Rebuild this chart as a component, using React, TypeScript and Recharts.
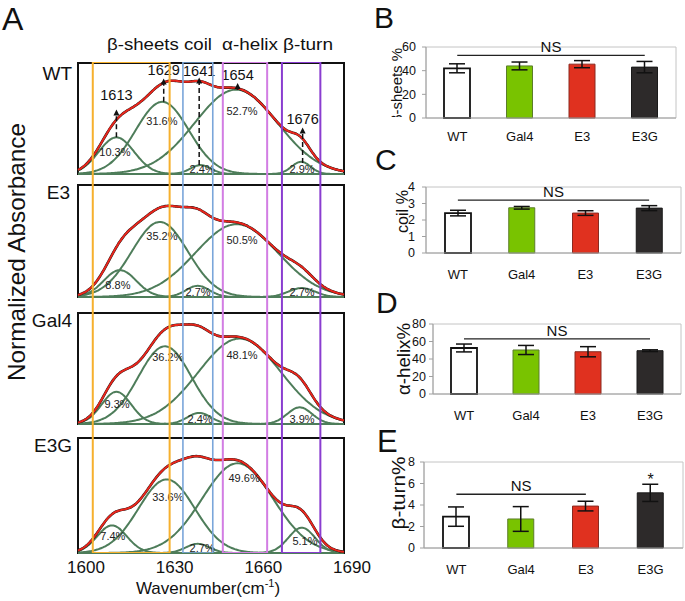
import React from 'react';
import {
  ComposedChart, Line, XAxis, YAxis, ReferenceArea, ReferenceLine, ReferenceDot,
  BarChart, Bar, Cell, ErrorBar,
} from 'recharts';

const FONT = '"Liberation Sans", Arial, Helvetica, sans-serif';

// ---------- Panel A: fitted band components ----------
// [center (cm-1), height (normalized absorbance), width sigma (cm-1)]
const wtBands = [[1613, 0.33, 6], [1628.5, 0.65, 9], [1641.5, 0.08, 3.5], [1653.5, 0.76, 14], [1675.5, 0.11, 3.2]];
const e3Bands = [[1614.2, 0.24, 5.5], [1627.7, 0.67, 9.5], [1640.5, 0.1, 4], [1653.7, 0.65, 14], [1675.7, 0.08, 4.5]];
const gal4Bands = [[1613, 0.29, 5], [1629.4, 0.7, 9], [1641, 0.1, 4], [1654.7, 0.77, 14], [1675, 0.15, 4.2]];
const e3gBands = [[1611.5, 0.24, 5], [1630, 0.64, 9.5], [1640.5, 0.08, 4], [1654, 0.78, 12], [1675.7, 0.22, 4.5]];

const wtPct = [{ x: 1612.5, y: 0.2, t: '10.3%' }, { x: 1628.4, y: 0.48, t: '31.6%' }, { x: 1655.5, y: 0.57, t: '52.7%' }, { x: 1642, y: 0.04, t: '2.4%' }, { x: 1675.8, y: 0.04, t: '2.9%' }];
const e3Pct = [{ x: 1613.5, y: 0.11, t: '8.8%' }, { x: 1628.4, y: 0.54, t: '35.2%' }, { x: 1655.5, y: 0.51, t: '50.5%' }, { x: 1640.6, y: 0.045, t: '2.7%' }, { x: 1675.8, y: 0.045, t: '2.7%' }];
const gal4Pct = [{ x: 1613.2, y: 0.18, t: '9.3%' }, { x: 1630.4, y: 0.6, t: '36.2%' }, { x: 1655.5, y: 0.62, t: '48.1%' }, { x: 1641.3, y: 0.045, t: '2.4%' }, { x: 1675.8, y: 0.045, t: '3.9%' }];
const e3gPct = [{ x: 1611.8, y: 0.15, t: '7.4%' }, { x: 1630.4, y: 0.49, t: '33.6%' }, { x: 1656.2, y: 0.65, t: '49.6%' }, { x: 1642, y: 0.04, t: '2.7%' }, { x: 1676.8, y: 0.1, t: '5.1%' }];

// WT peak markers: wavenumber, dashed line start, arrow tip, label height
const wtPeaks = [
  { wn: 1613, from: 0.33, to: 0.58, ly: 0.71 },
  { wn: 1629, from: 0.65, to: 0.86, ly: 0.94 },
  { wn: 1641, from: 0.08, to: 0.87, ly: 0.93 },
  { wn: 1654, from: 0.76, to: 0.82, ly: 0.89 },
  { wn: 1676, from: 0.1, to: 0.42, ly: 0.5 },
];

// Assignment windows (cm-1)
const regions = [
  { x1: 1605, x2: 1631, color: '#F6B02E', w: 2 },
  { x1: 1635.5, x2: 1645.6, color: '#7AA6DA', w: 1.6 },
  { x1: 1649, x2: 1664, color: '#D27DE3', w: 2 },
  { x1: 1669, x2: 1682, color: '#8A3DD0', w: 2 },
];

const xTicksA = [1600, 1630, 1660, 1690];

// ---------- Panels B-E ----------
const categories = ['WT', 'Gal4', 'E3', 'E3G'];
const barColors = ['#FFFFFF', '#79C300', '#E0311F', '#2D2A2A'];
const barStrokes = ['#111111', '#5b7d2a', '#8a2a20', '#1a1a1a'];
const betaSheets = [42, 44, 45.5, 43];
const betaSheetsErr = [3.8, 3.3, 3, 4.8];
const coil = [2.42, 2.74, 2.42, 2.72];
const coilErr = [0.17, 0.08, 0.14, 0.15];
const helix = [52.6, 50.3, 48.3, 49.5];
const helixErr = [4.5, 5.2, 5.8, 1];
const turn = [2.92, 2.7, 3.9, 5.13];
const turnErr = [0.9, 1.15, 0.45, 0.8];

const wnGrid: number[] = [];
for (let w = 1600; w <= 1690.001; w += 0.5) wnGrid.push(Math.round(w * 10) / 10);

function buildSpectrum(bands: number[][]) {
  return wnGrid.map((w) => {
    const row: any = { w };
    let s = 0;
    bands.forEach(([c, h, sg], i) => {
      const v = h * Math.exp(-0.5 * ((w - c) / sg) ** 2);
      row['c' + i] = v;
      s += v;
    });
    row.fit = s;
    return row;
  });
}

const PADL = 20;
const PADR = 34;

function Spectrum({ bands, pct, top, height, showAxis, peaks }: any) {
  const data = buildSpectrum(bands);
  const axisH = showAxis ? 30 : 0;
  const mTop = 12;
  const mBot = showAxis ? 0 : 12;
  const W = 266 + PADL + PADR;
  const H = mTop + height + mBot + axisH;
  return (
    <div style={{ position: 'absolute', left: 78 - PADL, top: top - mTop, width: W, height: H }}>
      <ComposedChart width={W} height={H} data={data} margin={{ top: mTop, right: PADR, bottom: mBot, left: PADL }}>
        <XAxis
          dataKey="w"
          type="number"
          domain={[1600, 1690]}
          ticks={xTicksA}
          interval={0}
          hide={!showAxis}
          height={axisH || 30}
          axisLine={false}
          tickLine={false}
          tickSize={6}
          tick={(p: any) => (
            <text x={p.x + 8} y={p.y} dy="0.71em" textAnchor="middle" fontSize={17} fontFamily={FONT} fill="#111">
              {p.payload.value}
            </text>
          )}
        />
        <YAxis type="number" domain={[0, 1]} hide />
        {[0, 1, 2, 3, 4].map((i) => (
          <Line key={i} dataKey={'c' + i} type="monotone" stroke="#4E7D5A" strokeWidth={2} dot={false} isAnimationActive={false} />
        ))}
        <Line dataKey="fit" type="monotone" stroke="#111" strokeWidth={2.6} dot={false} isAnimationActive={false} />
        <Line dataKey="fit" type="monotone" stroke="#E8261C" strokeWidth={2} dot={false} isAnimationActive={false} />
        {pct.map((p: any, i: number) => (
          <ReferenceDot key={'p' + i} x={p.x} y={p.y} r={0} fill="none" stroke="none" ifOverflow="visible"
            label={{ value: p.t, position: 'center', fontSize: 11, fill: '#222', fontFamily: FONT }} />
        ))}
        {(peaks || []).map((p: any, i: number) => (
          <ReferenceLine key={'pl' + i} segment={[{ x: p.wn, y: p.from }, { x: p.wn, y: p.to - 0.03 }]}
            stroke="#111" strokeWidth={1.5} strokeDasharray="5 3" ifOverflow="visible" />
        ))}
        {(peaks || []).map((p: any, i: number) => (
          <ReferenceDot key={'pa' + i} x={p.wn} y={p.to} r={3} ifOverflow="visible"
            shape={(s: any) => <path d={`M${s.cx - 3},${s.cy + 6} L${s.cx},${s.cy} L${s.cx + 3},${s.cy + 6} Z`} fill="#111" />} />
        ))}
        {(peaks || []).map((p: any, i: number) => (
          <ReferenceDot key={'pt' + i} x={p.wn} y={p.ly} r={0} fill="none" stroke="none" ifOverflow="visible"
            label={{ value: String(p.wn), position: 'center', fontSize: 14.5, fill: '#111', fontFamily: FONT }} />
        ))}
        <ReferenceArea x1={1600} x2={1690} y1={0} y2={1} fill="none" stroke="#111" strokeWidth={2} ifOverflow="visible" />
      </ComposedChart>
    </div>
  );
}

function RegionOverlay() {
  const data = [{ w: 1600, v: 0 }, { w: 1690, v: 1 }];
  return (
    <div style={{ position: 'absolute', left: 78, top: 62, width: 266, height: 491 }}>
      <ComposedChart width={266} height={491} data={data} margin={{ top: 0, right: 0, bottom: 0, left: 0 }}>
        <XAxis dataKey="w" type="number" domain={[1600, 1690]} hide />
        <YAxis type="number" domain={[0, 1]} hide />
        <Line dataKey="v" stroke="none" dot={false} isAnimationActive={false} />
        {regions.map((r, i) => (
          <ReferenceArea key={i} x1={r.x1} x2={r.x2} y1={0} y2={1} fill="none" fillOpacity={0}
            stroke={r.color} strokeWidth={r.w} ifOverflow="visible" />
        ))}
      </ComposedChart>
    </div>
  );
}

function BarPanel({ values, errs, plot, ticks, ns, nsY, star }: any) {
  const data = categories.map((c, i) => ({ cat: c, v: values[i], e: errs[i] }));
  const yw = 40;
  const mt = 12;
  const plotW = plot.right - plot.left;
  const plotH = plot.bottom - plot.top;
  const width = yw + plotW + 3;
  const height = mt + plotH + 34;
  const max = ticks[ticks.length - 1];
  return (
    <div style={{ position: 'absolute', left: plot.left - yw, top: plot.top - mt, width, height }}>
      <BarChart width={width} height={height} data={data} margin={{ top: mt, right: 3, bottom: 0, left: 0 }} barCategoryGap={0}>
        <ReferenceArea y1={0} y2={max} fill="none" stroke="#C4C4C4" strokeWidth={1} />
        <XAxis dataKey="cat" axisLine={{ stroke: '#A0A0A0' }} tickLine={false} tickSize={6} tickMargin={plot.tm} height={34}
          tick={{ fontSize: 13, fill: '#111', fontFamily: FONT }} interval={0} />
        <YAxis width={yw} domain={[0, max]} ticks={ticks} interval={0} axisLine={{ stroke: '#A0A0A0' }}
          tickLine={{ stroke: '#A0A0A0' }} tickSize={4} tickMargin={plot.ym}
          tick={{ fontSize: 12.5, fill: '#111', fontFamily: FONT }} />
        <Bar dataKey="v" barSize={26} isAnimationActive={false}>
          {data.map((d, i) => (
            <Cell key={i} fill={barColors[i]} stroke={barStrokes[i]} strokeWidth={i === 0 ? 1.8 : 1} />
          ))}
          <ErrorBar dataKey="e" width={8} stroke="#111" strokeWidth={1.5} direction="y" />
        </Bar>
        <ReferenceLine segment={[{ x: 'WT', y: nsY }, { x: ns, y: nsY }]} stroke="#222" strokeWidth={1.3}
          label={{ value: 'NS', position: 'top', offset: 3, fontSize: 15, fill: '#111', fontFamily: FONT }} />
        {star ? (
          <ReferenceDot x="E3G" y={star} r={0} fill="none" stroke="none" ifOverflow="visible"
            label={{ value: '*', position: 'center', fontSize: 16, fill: '#111', fontFamily: FONT }} />
        ) : null}
      </BarChart>
    </div>
  );
}

function Texts() {
  const t = { fontFamily: FONT, fill: '#111' } as any;
  return (
    <svg width={685} height={601} style={{ position: 'absolute', left: 0, top: 0 }}>
      <defs>
        <clipPath id="clipB"><rect x={370} y={0} width={50} height={117} /></clipPath>
      </defs>
      <text x={2} y={30} fontSize={32} {...t}>A</text>
      <text x={107} y={50} fontSize={17} textLength={105} lengthAdjust="spacingAndGlyphs" {...t}>β-sheets coil</text>
      <text x={222} y={50} fontSize={17} textLength={56} lengthAdjust="spacingAndGlyphs" {...t}>α-helix</text>
      <text x={283} y={50} fontSize={17} textLength={50} lengthAdjust="spacingAndGlyphs" {...t}>β-turn</text>
      <text x={72} y={80} fontSize={19} textAnchor="end" {...t}>WT</text>
      <text x={70} y={199} fontSize={19} textAnchor="end" {...t}>E3</text>
      <text x={72} y={327} fontSize={19} textAnchor="end" {...t}>Gal4</text>
      <text x={72} y={452} fontSize={19} textAnchor="end" {...t}>E3G</text>
      <text transform="translate(25,252) rotate(-90)" fontSize={24} textAnchor="middle" textLength={258} lengthAdjust="spacingAndGlyphs" {...t}>
        Normalized Absorbance
      </text>
      <text x={208} y={594} fontSize={17} textAnchor="middle" {...t}>
        Wavenumber(cm<tspan fontSize={11} dy={-7}>-1</tspan><tspan dy={7}>)</tspan>
      </text>
      <text x={374} y={28} fontSize={30} {...t}>B</text>
      <text x={375} y={170} fontSize={30} {...t}>C</text>
      <text x={376} y={313} fontSize={30} {...t}>D</text>
      <text x={377} y={452} fontSize={31} {...t}>E</text>
      <g clipPath="url(#clipB)">
        <text transform="translate(402,48) rotate(-90)" fontSize={15} textAnchor="end" textLength={75} lengthAdjust="spacingAndGlyphs" {...t}>β-sheets %</text>
      </g>
      <text transform="translate(408,211.5) rotate(-90)" fontSize={16} textAnchor="middle" textLength={43} lengthAdjust="spacingAndGlyphs" {...t}>coil %</text>
      <text transform="translate(410,359) rotate(-90)" fontSize={18} textAnchor="middle" textLength={72} lengthAdjust="spacingAndGlyphs" {...t}>α-helix%</text>
      <text transform="translate(405,493) rotate(-90)" fontSize={19} textAnchor="middle" textLength={73} lengthAdjust="spacingAndGlyphs" {...t}>β-turn%</text>
    </svg>
  );
}

export default function App() {
  return (
    <div style={{ position: 'absolute', left: 0, top: 0, width: 685, height: 601, background: '#fff', fontFamily: FONT }}>
      <Texts />
      <Spectrum bands={wtBands} pct={wtPct} top={63} height={111} peaks={wtPeaks} />
      <Spectrum bands={e3Bands} pct={e3Pct} top={185} height={112} />
      <Spectrum bands={gal4Bands} pct={gal4Pct} top={313} height={111} />
      <Spectrum bands={e3gBands} pct={e3gPct} top={438} height={115} showAxis />
      <RegionOverlay />
      <BarPanel values={betaSheets} errs={betaSheetsErr} ticks={[0, 20, 40, 60]} ns="E3G" nsY={53}
        plot={{ left: 426, right: 676, top: 47, bottom: 118, tm: 8, ym: 6 }} />
      <BarPanel values={coil} errs={coilErr} ticks={[0, 1, 2, 3, 4]} ns="E3G" nsY={3.2}
        plot={{ left: 426, right: 681, top: 187, bottom: 253, tm: 11, ym: 7 }} />
      <BarPanel values={helix} errs={helixErr} ticks={[0, 20, 40, 60, 80]} ns="E3G" nsY={63}
        plot={{ left: 433, right: 681, top: 324, bottom: 394, tm: 11, ym: 3 }} />
      <BarPanel values={turn} errs={turnErr} ticks={[0, 2, 4, 6, 8]} ns="E3" nsY={5.0} star={6.4}
        plot={{ left: 424, right: 683, top: 462, bottom: 548, tm: 11, ym: 5 }} />
    </div>
  );
}
